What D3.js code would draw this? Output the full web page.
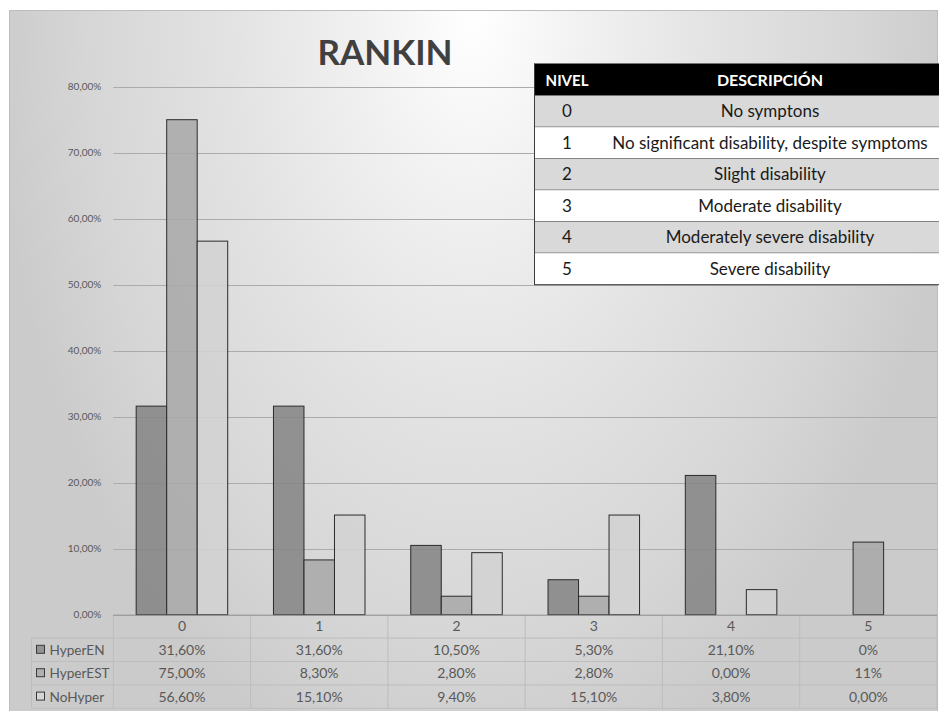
<!DOCTYPE html>
<html>
<head>
<meta charset="utf-8">
<script src="https://cdn.jsdelivr.net/npm/d3@7/dist/d3.min.js"></script>
<style>
  html, body { margin: 0; padding: 0; background: #ffffff; }
  svg { display: block; }
  text { font-family: Lato, "Open Sans", "Noto Sans", sans-serif; }
</style>
</head>
<body>
<svg id="chart" width="939" height="711"></svg>
<script>
// ---------------- DATA ----------------
const categories = ["0", "1", "2", "3", "4", "5"];
const seriesNames = ["HyperEN", "HyperEST", "NoHyper"];
const hyperEN  = [31.6, 31.6, 10.5, 5.3, 21.1, 0];
const hyperEST = [75.0, 8.3, 2.8, 2.8, 0.0, 11.0];
const noHyper  = [56.6, 15.1, 9.4, 15.1, 3.8, 0.0];
const yTicks = [0, 10, 20, 30, 40, 50, 60, 70, 80];
const tableHyperEN  = ["31,60%", "31,60%", "10,50%", "5,30%", "21,10%", "0%"];
const tableHyperEST = ["75,00%", "8,30%", "2,80%", "2,80%", "0,00%", "11%"];
const tableNoHyper  = ["56,60%", "15,10%", "9,40%", "15,10%", "3,80%", "0,00%"];
const levels = ["0", "1", "2", "3", "4", "5"];
const descriptions = [
  "No symptons",
  "No significant disability, despite symptoms",
  "Slight disability",
  "Moderate disability",
  "Moderately severe disability",
  "Severe disability"
];
const titleText = "RANKIN";
const descHeaders = ["NIVEL", "DESCRIPCIÓN"];

// ---------------- SETUP ----------------
const seriesValues = [hyperEN, hyperEST, noHyper];
const seriesTable = [tableHyperEN, tableHyperEST, tableNoHyper];
const seriesFill = ["#858585", "#a9a9a9", "#d2d2d2"];
const legendFill = ["#939393", "#b0b0b0", "#d6d6d6"];

const svg = d3.select("#chart");
const defs = svg.append("defs");
const grad = defs.append("radialGradient")
  .attr("id", "bg")
  .attr("gradientUnits", "userSpaceOnUse")
  .attr("cx", 473).attr("cy", 15).attr("r", 780)
  .attr("fx", 473).attr("fy", 15)
  .attr("gradientTransform", "translate(473,15) scale(0.62,1) translate(-473,-15)");
[[0, "#ffffff"], [0.25, "#f0f0f0"], [0.5, "#e3e3e3"], [0.8, "#d6d6d6"], [1, "#cbcbcb"]]
  .forEach(([o, c]) => grad.append("stop").attr("offset", o).attr("stop-color", c));

// frame
svg.append("rect")
  .attr("x", 9.5).attr("y", 10.5).attr("width", 928).attr("height", 705)
  .attr("fill", "url(#bg)").attr("stroke", "#bdbdbd").attr("stroke-width", 1);

// scales
const plotLeft = 113.3, plotRight = 937;
const x = d3.scaleBand().domain(categories).range([plotLeft, plotRight]).padding(0);
const xs = d3.scaleBand().domain(seriesNames).range([0, x.bandwidth()])
  .paddingInner(0).paddingOuter(0.75);
const y = d3.scaleLinear().domain([0, 80]).range([614.7, 86.7]);

// gridlines
svg.append("g").selectAll("line")
  .data(yTicks.filter(d => d > 0))
  .join("line")
  .attr("x1", plotLeft).attr("x2", plotRight)
  .attr("y1", d => Math.round(y(d)) + 0.5).attr("y2", d => Math.round(y(d)) + 0.5)
  .attr("stroke", "#ababab").attr("stroke-width", 1);

// y axis labels
const locale = d3.formatLocale({ decimal: ",", thousands: ".", grouping: [3], currency: ["", "€"] });
const fmt = locale.format(".2f");
const yAxis = d3.axisLeft(y).tickValues(yTicks).tickSize(0).tickPadding(12)
  .tickFormat(d => fmt(d) + "%");
const gy = svg.append("g").attr("transform", `translate(${plotLeft},0)`).call(yAxis);
gy.select(".domain").remove();
gy.selectAll("text").attr("font-size", 10).attr("fill", "#595959")
  .style("font-family", "Lato, 'Open Sans', sans-serif");

// bars
const barData = [];
categories.forEach((c, i) => {
  seriesNames.forEach((s, j) => {
    barData.push({ cat: c, series: s, j, value: seriesValues[j][i] });
  });
});
svg.append("g").selectAll("rect")
  .data(barData.filter(d => d.value > 0))
  .join("rect")
  .attr("x", d => x(d.cat) + xs(d.series))
  .attr("width", xs.bandwidth())
  .attr("y", d => y(d.value))
  .attr("height", d => y(0) - y(d.value))
  .attr("fill", d => seriesFill[d.j])
  .attr("fill-opacity", 0.87)
  .attr("stroke", "#2b2b2b").attr("stroke-width", 1);

// ---------------- data table under the chart ----------------
const rowH = 23.4;
const tTop = y(0);
const legendLeft = 31.5;
const tBottom = tTop + rowH * 4;
const tFont = 14;
const tg = svg.append("g");
[1, 2, 3, 4].forEach(k => {
  tg.append("line")
    .attr("x1", legendLeft).attr("x2", plotRight)
    .attr("y1", tTop + rowH * k).attr("y2", tTop + rowH * k)
    .attr("stroke", "#bdbdbd").attr("stroke-width", 1);
});
d3.range(categories.length + 1).forEach(k => {
  const xx = plotLeft + k * x.bandwidth();
  tg.append("line")
    .attr("x1", xx).attr("x2", xx).attr("y1", tTop).attr("y2", tBottom)
    .attr("stroke", "#bdbdbd").attr("stroke-width", 1);
});
tg.append("line")
  .attr("x1", legendLeft).attr("x2", legendLeft)
  .attr("y1", tTop + rowH).attr("y2", tBottom)
  .attr("stroke", "#bdbdbd").attr("stroke-width", 1);
tg.append("line")
  .attr("x1", plotLeft).attr("x2", plotRight)
  .attr("y1", tTop + 0.5).attr("y2", tTop + 0.5)
  .attr("stroke", "#8a8a8a").attr("stroke-width", 1);

tg.selectAll("text.cat").data(categories).join("text")
  .attr("class", "cat")
  .attr("x", d => x(d) + x.bandwidth() / 2)
  .attr("y", tTop + rowH / 2 + 5)
  .attr("text-anchor", "middle").attr("font-size", tFont).attr("fill", "#595959")
  .text(d => d);

seriesNames.forEach((s, j) => {
  const ry = tTop + rowH * (j + 1);
  tg.append("rect")
    .attr("x", 36.5).attr("y", ry + rowH / 2 - 4.5).attr("width", 8).attr("height", 8)
    .attr("fill", legendFill[j]).attr("stroke", "#3a3a3a").attr("stroke-width", 1);
  tg.append("text")
    .attr("x", 49.5).attr("y", ry + rowH / 2 + 5)
    .attr("font-size", 13.6).attr("fill", "#595959").text(s);
  tg.selectAll(null).data(categories).join("text")
    .attr("x", d => x(d) + x.bandwidth() / 2)
    .attr("y", ry + rowH / 2 + 5)
    .attr("text-anchor", "middle").attr("font-size", tFont).attr("fill", "#595959")
    .text((d, i) => seriesTable[j][i]);
});

// ---------------- title ----------------
svg.append("text")
  .attr("x", 385).attr("y", 65)
  .attr("text-anchor", "middle")
  .attr("font-size", 35).attr("font-weight", "bold").attr("fill", "#404040")
  .text(titleText);

// ---------------- description table ----------------
const dLeft = 534, dRight = 939, dTop = 63.5, dHeadH = 32.2, dRowH = 31.5;
const nivelX = 567, descX = 770;
const dg = svg.append("g");
dg.append("rect").attr("x", dLeft).attr("y", dTop).attr("width", dRight - dLeft).attr("height", dHeadH)
  .attr("fill", "#000000");
dg.append("text").attr("x", nivelX).attr("y", dTop + dHeadH / 2 + 6)
  .attr("text-anchor", "middle").attr("font-size", 15).attr("font-weight", "bold")
  .attr("fill", "#ffffff").text(descHeaders[0]);
dg.append("text").attr("x", descX).attr("y", dTop + dHeadH / 2 + 6)
  .attr("text-anchor", "middle").attr("font-size", 16).attr("font-weight", "bold")
  .attr("fill", "#ffffff").text(descHeaders[1]);
levels.forEach((lv, i) => {
  const ry = dTop + dHeadH + i * dRowH;
  dg.append("rect").attr("x", dLeft).attr("y", ry).attr("width", dRight - dLeft).attr("height", dRowH)
    .attr("fill", i % 2 === 0 ? "#d9d9d9" : "#ffffff");
  dg.append("line").attr("x1", dLeft).attr("x2", dRight).attr("y1", ry + dRowH).attr("y2", ry + dRowH)
    .attr("stroke", "#3c3c3c").attr("stroke-width", 1);
  dg.append("text").attr("x", nivelX).attr("y", ry + dRowH / 2 + 6)
    .attr("text-anchor", "middle").attr("font-size", 17).attr("fill", "#1a1a1a").text(lv);
  dg.append("text").attr("x", descX).attr("y", ry + dRowH / 2 + 6)
    .attr("text-anchor", "middle").attr("font-size", 17).attr("fill", "#1a1a1a").text(descriptions[i]);
});
dg.append("line").attr("x1", dLeft + 0.5).attr("x2", dLeft + 0.5)
  .attr("y1", dTop).attr("y2", dTop + dHeadH + levels.length * dRowH)
  .attr("stroke", "#3c3c3c").attr("stroke-width", 1);
</script>
</body>
</html>
